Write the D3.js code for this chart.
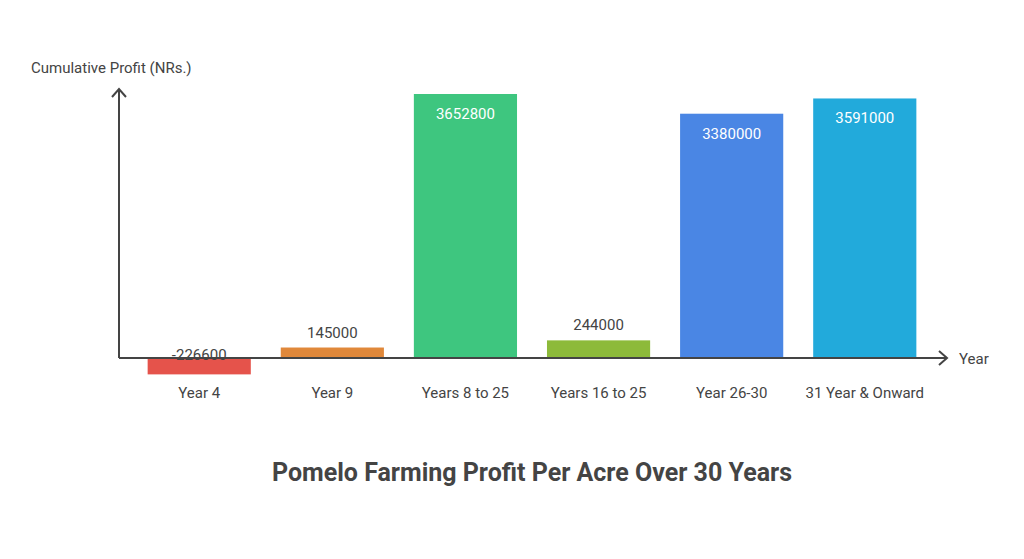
<!DOCTYPE html>
<html><head><meta charset="utf-8">
<script src="https://cdn.jsdelivr.net/npm/d3@7"></script>
<style>body{margin:0;background:#fff;font-family:Roboto,sans-serif;}</style>
</head><body>
<script>
const categories = ["Year 4", "Year 9", "Years 8 to 25", "Years 16 to 25", "Year 26-30", "31 Year & Onward"];
const profits = [-226600, 145000, 3652800, 244000, 3380000, 3591000];
const colors = ["#e5534b", "#e0883a", "#3ec67f", "#8dba3a", "#4a86e4", "#22aadb"];

const svg = d3.select("body").append("svg")
    .attr("width", 1024)
    .attr("height", 559);

const x = d3.scaleBand().domain(categories).range([133, 931]).paddingInner(0.225).paddingOuter(0.11);
const y = d3.scaleLinear().domain([0, 3652800]).range([358, 94]);

svg.selectAll("rect.bar").data(profits).enter().append("rect")
    .attr("x", (d, i) => x(categories[i]))
    .attr("y", d => y(Math.max(0, d)))
    .attr("width", x.bandwidth())
    .attr("height", d => Math.abs(y(d) - y(0)))
    .attr("fill", (d, i) => colors[i]);

svg.selectAll("text.val").data(profits).enter().append("text")
    .attr("x", (d, i) => x(categories[i]) + x.bandwidth() / 2)
    .attr("y", d => d > 1000000 ? y(d) + 25 : (d < 0 ? y(0) + 2 : y(d) - 10))
    .attr("text-anchor", "middle")
    .attr("font-size", 15)
    .attr("fill", d => d > 1000000 ? "#fff" : "#444")
    .text(d => d);

// axes
const ax = svg.append("g").attr("stroke", "#444").attr("stroke-width", 2).attr("fill", "none");
ax.append("line").attr("x1", 119).attr("y1", 358).attr("x2", 119).attr("y2", 89);
ax.append("path").attr("d", "M112,97 L119,89 L126,97");
ax.append("line").attr("x1", 119).attr("y1", 358).attr("x2", 947).attr("y2", 358);
ax.append("path").attr("d", "M939,351 L947,358 L939,365");

svg.selectAll("text.cat").data(categories).enter().append("text")
    .attr("x", d => x(d) + x.bandwidth() / 2)
    .attr("y", 398)
    .attr("text-anchor", "middle")
    .attr("font-size", 15)
    .attr("fill", "#444")
    .text(d => d);

svg.append("text").attr("x", 31).attr("y", 73).attr("font-size", 15).attr("fill", "#444")
    .text("Cumulative Profit (NRs.)");
svg.append("text").attr("x", 959).attr("y", 364).attr("font-size", 15).attr("fill", "#444")
    .text("Year");
svg.append("text").attr("x", 532).attr("y", 481).attr("text-anchor", "middle")
    .attr("font-size", 25).attr("font-weight", "bold").attr("fill", "#444")
    .text("Pomelo Farming Profit Per Acre Over 30 Years");
</script>
</body></html>
